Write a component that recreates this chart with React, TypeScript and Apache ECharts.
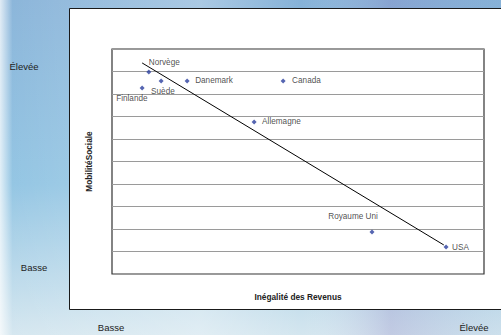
import React, { useEffect, useRef } from "react";
import * as echarts from "echarts";

const countries = ["Norvège", "Finlande", "Suède", "Danemark", "Canada", "Allemagne", "Royaume Uni", "USA"];
const inequality = [9.9, 8.1, 13.2, 20.2, 46.0, 38.2, 69.9, 89.8];
const mobility = [8.98, 8.27, 8.58, 8.58, 8.58, 6.76, 1.87, 1.2];
const trendX = [8.1, 89.2];
const trendY = [9.38, 1.29];
const yAxisTitle = "MobilitéSociale";
const xAxisTitle = "Inégalité des Revenus";
const highLabel = "Élevée";
const lowLabel = "Basse";

// label placement (offset from point centre, alignment)
const labelPlace: Record<string, { dx: number; dy: number; align: string }> = {
  "Norvège": { dx: 0, dy: -9, align: "left" },
  "Finlande": { dx: -26, dy: 11, align: "left" },
  "Suède": { dx: -10, dy: 11, align: "left" },
  "Danemark": { dx: 8, dy: 0, align: "left" },
  "Canada": { dx: 9, dy: 0, align: "left" },
  "Allemagne": { dx: 8, dy: 0, align: "left" },
  "Royaume Uni": { dx: -19, dy: -15, align: "center" },
  "USA": { dx: 6, dy: 0, align: "left" },
};

const FONT = "'Liberation Sans', Arial, sans-serif";

export default function App() {
  const ref = useRef<HTMLDivElement>(null);
  useEffect(() => {
    if (!ref.current) return;
    const chart = echarts.init(ref.current, null, { renderer: "svg" });
    const points = countries.map((c, i) => {
      const p = labelPlace[c];
      return {
        name: c,
        value: [inequality[i], mobility[i]],
        label: {
          show: true,
          formatter: c,
          position: "inside",
          align: p.align,
          verticalAlign: "middle",
          offset: [p.dx, p.dy],
          fontSize: 8.2,
          fontFamily: FONT,
          color: "#222",
        },
      };
    });
    chart.setOption({
      animation: false,
      backgroundColor: {
        type: "linear",
        x: 0, y: 0, x2: 0, y2: 1,
        colorStops: [
          { offset: 0, color: "#86b2d8" },
          { offset: 0.55, color: "#8fc3e2" },
          { offset: 1, color: "#d4e6ef" },
        ],
      },
      graphic: [
        {
          type: "rect",
          z: -20,
          shape: { x: 0, y: 0, width: 501, height: 335 },
          style: {
            fill: {
              type: "linear",
              x: 0, y: 0, x2: 1, y2: 0,
              colorStops: [
                { offset: 0, color: "rgba(255,255,255,0.75)" },
                { offset: 0.025, color: "rgba(255,255,255,0.05)" },
                { offset: 0.4, color: "rgba(255,255,255,0.3)" },
                { offset: 0.6, color: "rgba(255,255,255,0.0)" },
                { offset: 0.78, color: "rgba(140,120,190,0.25)" },
                { offset: 1, color: "rgba(140,170,210,0.1)" },
              ],
            },
          },
          silent: true,
        },
        {
          type: "rect",
          z: -10,
          shape: { x: 69.5, y: 8.5, width: 440, height: 301 },
          style: { fill: "#ffffff", stroke: "#1a1a1a", lineWidth: 1 },
          silent: true,
        },
        {
          type: "text", z: 10, x: 24, y: 66,
          style: { text: highLabel, fontSize: 9.5, fontFamily: FONT, fill: "#222", align: "center", verticalAlign: "middle" },
        },
        {
          type: "text", z: 10, x: 34, y: 267,
          style: { text: lowLabel, fontSize: 9.5, fontFamily: FONT, fill: "#222", align: "center", verticalAlign: "middle" },
        },
        {
          type: "text", z: 10, x: 111, y: 327,
          style: { text: lowLabel, fontSize: 9.5, fontFamily: FONT, fill: "#222", align: "center", verticalAlign: "middle" },
        },
        {
          type: "text", z: 10, x: 474, y: 327,
          style: { text: highLabel, fontSize: 9.5, fontFamily: FONT, fill: "#222", align: "center", verticalAlign: "middle" },
        },
      ],
      grid: {
        left: 112,
        top: 49,
        width: 372,
        height: 225,
        show: true,
        backgroundColor: "#ffffff",
        borderColor: "#333",
        borderWidth: 1.2,
      },
      xAxis: {
        type: "value",
        min: 0,
        max: 100,
        axisLine: { show: false },
        axisTick: { show: false },
        axisLabel: { show: false },
        splitLine: { show: false },
        name: xAxisTitle,
        nameLocation: "middle",
        nameGap: 19,
        nameTextStyle: { fontSize: 8.3, fontWeight: "bold", fontFamily: FONT, color: "#222" },
      },
      yAxis: {
        type: "value",
        min: 0,
        max: 10,
        interval: 1,
        axisLine: { show: false },
        axisTick: { show: false },
        axisLabel: { show: false },
        splitLine: { show: true, lineStyle: { color: "#9a9a9a", width: 1 } },
        name: yAxisTitle,
        nameLocation: "middle",
        nameGap: 19,
        nameRotate: 90,
        nameTextStyle: { fontSize: 8.3, fontWeight: "bold", fontFamily: FONT, color: "#222" },
      },
      series: [
        {
          type: "line",
          data: trendX.map((x, i) => [x, trendY[i]]),
          symbol: "none",
          lineStyle: { color: "#000", width: 1 },
          silent: true,
          z: 2,
        },
        {
          type: "scatter",
          data: points,
          symbol: "diamond",
          symbolSize: 5,
          itemStyle: { color: "#2a3f9e" },
          z: 3,
        },
      ],
    });
    return () => chart.dispose();
  }, []);
  return (
    <div
      ref={ref}
      style={{ position: "fixed", left: 0, top: 0, width: 501, height: 335 }}
    />
  );
}
